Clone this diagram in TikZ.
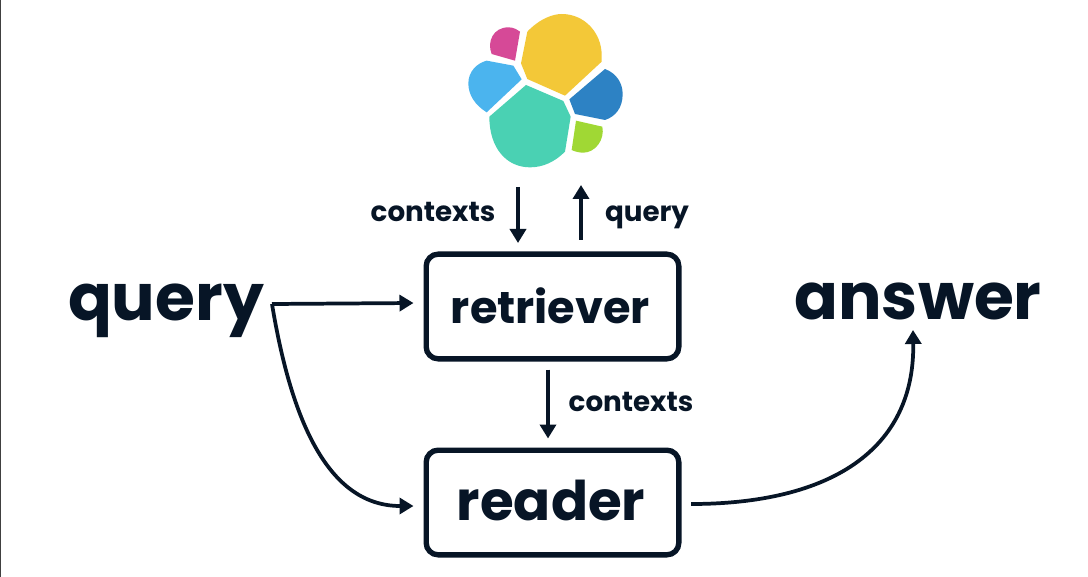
\documentclass[tikz,border=0pt]{standalone}
\usepackage{fontspec}
\setmainfont{Poppins}[BoldFont={Poppins Bold}]
\usetikzlibrary{arrows.meta,calc}
\definecolor{ink}{HTML}{071526}
\tikzset{
  x=0.75pt,y=-0.75pt,
  boxnode/.style={draw=ink,line width=4pt,rounded corners=9pt,minimum width=189.5pt,minimum height=78.5pt,inner sep=0pt},
  bigtext/.style={text=ink,font=\bfseries\fontsize{48.5}{60}\selectfont,inner sep=0pt},
  midtext/.style={text=ink,inner sep=0pt},
  smalltext/.style={text=ink,font=\bfseries\fontsize{20.8}{24}\selectfont,inner sep=0pt},
  flow/.style={draw=ink,line width=2.8pt,-{Triangle[length=10.5pt,width=12pt]}},
  petal/.style={line width=0pt}
}
\begin{document}
\begin{tikzpicture}
\useasboundingbox (0,0) rectangle (1088,577);
\fill[white] (0,0) rectangle (1088,577);
\fill[black!75] (0,0) rectangle (1,577);
% logo
\begin{scope}[shift={(450,0)},x=0.25pt,y=-0.25pt]
\fill[petal,fill={rgb,255:red,243;green,200;blue,56}] (232,95) .. controls (270,55) and (310,42) .. (335,42) .. controls (405,42) and (455,100) .. (455,165) -- (455,185) -- (345,287) -- (232,237) -- (213,190) -- cycle;
\fill[petal,fill={rgb,255:red,214;green,73;blue,151}] (210,95) -- (195,182) -- (125,162) .. controls (110,125) and (130,82) .. (175,82) .. controls (190,82) and (200,88) .. (210,95) -- cycle;
\fill[petal,fill={rgb,255:red,75;green,180;blue,238}] (110,182) -- (190,197) -- (215,238) -- (110,337) .. controls (75,315) and (55,285) .. (55,250) .. controls (55,215) and (80,190) .. (110,182) -- cycle;
\fill[petal,fill={rgb,255:red,74;green,209;blue,179}] (228,255) -- (340,303) -- (362,350) -- (345,455) .. controls (315,485) and (280,502) .. (240,502) .. controls (170,502) and (118,445) .. (118,350) -- cycle;
\fill[petal,fill={rgb,255:red,45;green,130;blue,196}] (465,207) .. controls (500,220) and (518,250) .. (518,282) .. controls (518,325) and (495,350) .. (465,360) -- (375,342) -- (358,298) -- cycle;
\fill[petal,fill={rgb,255:red,160;green,216;blue,52}] (378,362) -- (457,380) .. controls (465,420) and (435,458) .. (400,458) .. controls (388,458) and (375,455) .. (365,450) -- cycle;
\end{scope}
% boxes
\node[boxnode] (retriever) at (552.5,306.5) {};
\node[boxnode] (reader) at (552.5,502.5) {};
\node[midtext,anchor=base,font=\bfseries\fontsize{33.5}{40}\selectfont] (retrieverlabel) at (550.5,323.5) {retriever};
\node[midtext,anchor=base,font=\bfseries\fontsize{41}{48}\selectfont] (readerlabel) at (551,520.5) {reader};
% big words
\node[bigtext,anchor=base] (querytext) at (166,320) {query};
\node[bigtext,anchor=base] (answertext) at (918,319) {answer};
% small labels
\node[smalltext,anchor=base] (ctxa) at (433,221.5) {contexts};
\node[smalltext,anchor=base] (qa) at (647,221.5) {query};
\node[smalltext,anchor=base] (ctxb) at (631,411.5) {contexts};
% free ends
\coordinate (logodown) at (518,187);
\coordinate (logoup) at (581,185);
\coordinate (qstart) at (272,304);
\coordinate (rstart) at (691,504);
\coordinate (aend) at (913,330);
% connectors
\draw[flow] (logodown) -- (logodown |- 0,243);
\draw[flow] (logoup |- 0,240) -- (logoup);
\draw[flow] ($(retriever.south)+(-4.5,8)$) -- ($(reader.north)+(-4.5,-9)$);
\draw[flow] (qstart) -- ($(retriever.west)+(-10,-3.5)$);
\draw[flow] (qstart) .. controls (292,425) and (330,506) .. ($(reader.west)+(-10,3.5)$);
\draw[flow] (rstart) .. controls (830,504) and (915,450) .. (aend);
\end{tikzpicture}
\end{document}
